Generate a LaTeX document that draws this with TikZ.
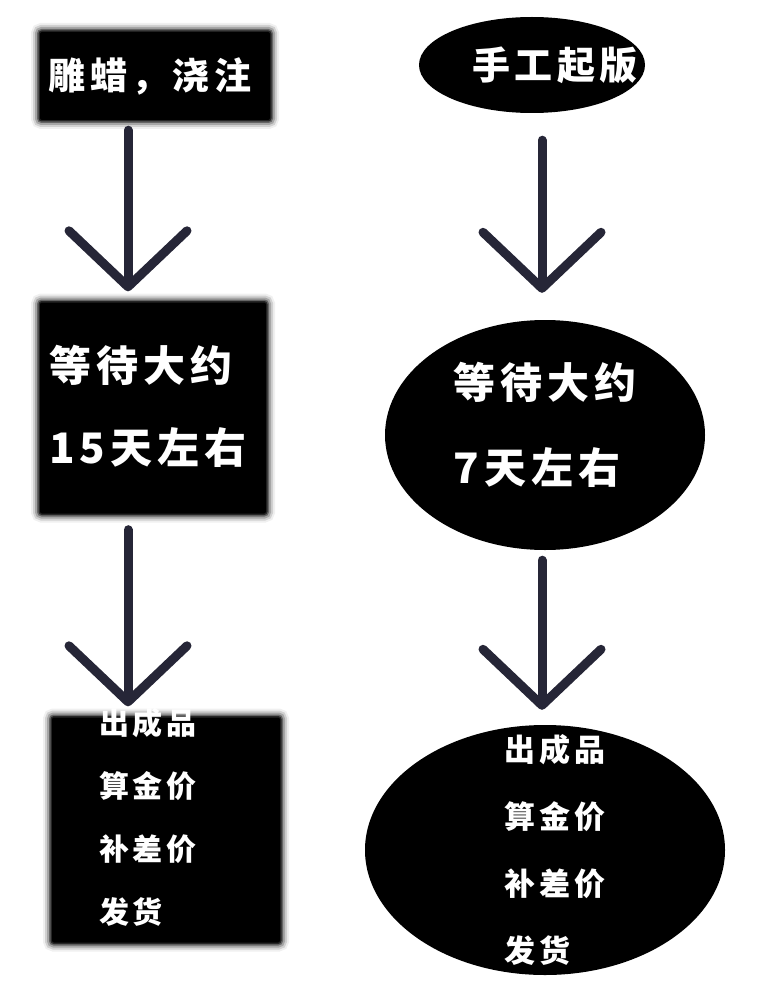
\documentclass[tikz,border=0pt]{standalone}
\usepackage{fontspec}
\newfontfamily\cjk{Noto Sans CJK SC}[LetterSpace=12]
\usetikzlibrary{arrows.meta,positioning,shapes.geometric}
\definecolor{FlowInk}{HTML}{262637}

\tikzset{
  blockbox/.style={fill=black, rounded corners=2pt,
    preaction={draw=black!6, line width=18pt, rounded corners=9pt},
    preaction={draw=black!18, line width=14pt, rounded corners=7pt},
    preaction={draw=black!35, line width=10pt, rounded corners=5pt},
    preaction={draw=black!60, line width=6pt, rounded corners=3pt},
    preaction={draw=black!85, line width=3pt}},
  ovalbox/.style={ellipse, fill=black, inner sep=0pt},
  steptext/.style={text=white, align=left, inner sep=0pt},
  flow/.style={draw=FlowInk, line width=9pt, line cap=round,
    -{Straight Barb[length=56pt,width=118pt,round]}},
}

\begin{document}
\begin{tikzpicture}[x=1pt,y=-1pt]
    \useasboundingbox (0,0) rectangle (760,1008);

    % left column: wax carving
    \node[blockbox, minimum width=230pt, minimum height=88pt] (carve) at (155,76) {};
    \node[steptext, font=\cjk\bfseries\fontsize{37}{40}\selectfont] (carvetxt) at (150,76) {雕蜡，浇注};

    \node[blockbox, minimum width=226pt, minimum height=211pt] (waitlong) at (153,408) {};
    \node[steptext, font=\cjk\bfseries\fontsize{42}{82}\selectfont] (waitlongtxt) at (148,406) {等待大约\\15天左右};

    \node[blockbox, minimum width=228pt, minimum height=225pt] (shiplong) at (166,830) {};
    \node[steptext, font=\cjk\bfseries\fontsize{30}{63}\selectfont] (shiplongtxt) at (148,817) {出成品\\算金价\\补差价\\发货};

    % right column: hand made
    \node[ovalbox, minimum width=226pt, minimum height=96pt] (hand) at (532,65) {};
    \node[steptext, font=\cjk\bfseries\fontsize{38}{40}\selectfont] (handtxt) at (555,65) {手工起版};

    \node[ovalbox, minimum width=320pt, minimum height=230pt] (waitshort) at (545,435) {};
    \node[steptext, font=\cjk\bfseries\fontsize{42}{85}\selectfont] (waitshorttxt) at (545,425) {等待大约\\7天左右};

    \node[ovalbox, minimum width=360pt, minimum height=250pt] (shipshort) at (545,850) {};
    \node[steptext, font=\cjk\bfseries\fontsize{31}{67}\selectfont] (shipshorttxt) at (555,850) {出成品\\算金价\\补差价\\发货};

    \draw[flow, shorten <=10pt, shorten >=11pt] ([xshift=-27pt]carve.south) -- ([xshift=-25pt]waitlong.north);
    \draw[flow, shorten <=16pt, shorten >=11pt] ([xshift=-25pt]waitlong.south) -- ([xshift=-38pt]shiplong.north);
    \draw[flow, shorten <=27pt, shorten >=27pt] ([xshift=10pt]hand.south) -- ([xshift=-3pt]waitshort.north);
    \draw[flow, shorten <=10pt, shorten >=15pt] ([xshift=-3pt]waitshort.south) -- ([xshift=-3pt]shipshort.north);
  \end{tikzpicture}
\end{document}
